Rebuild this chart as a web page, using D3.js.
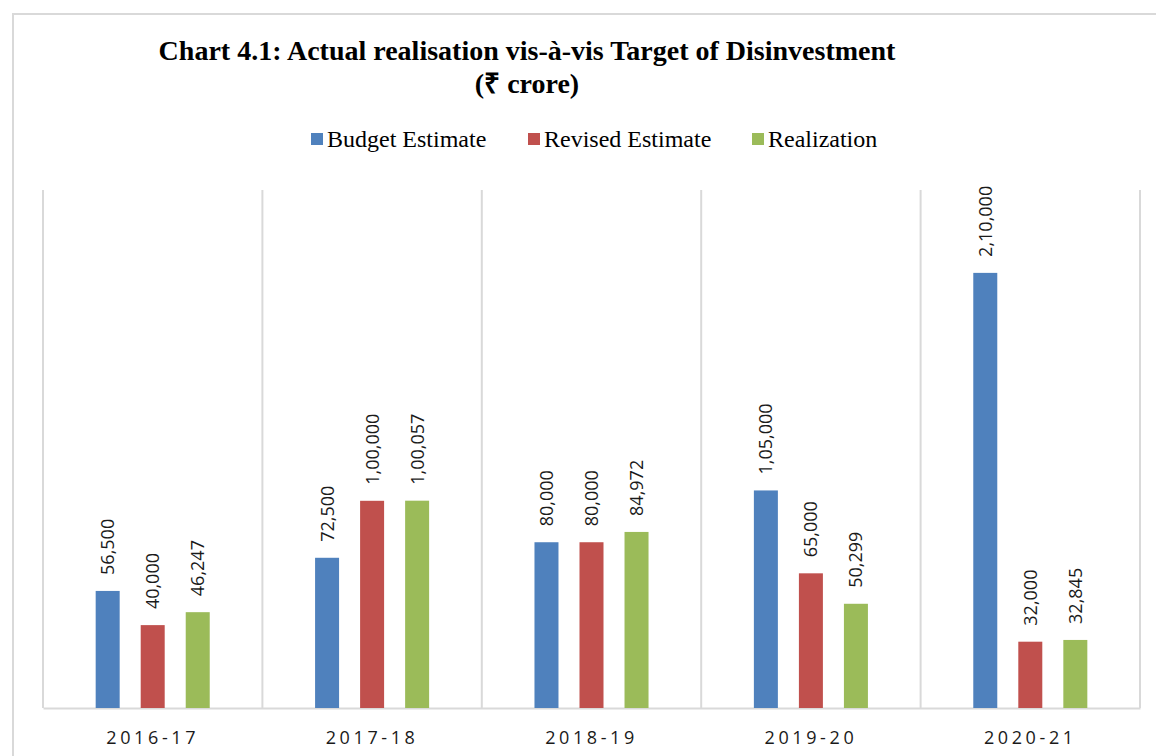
<!DOCTYPE html>
<html>
<head>
<meta charset="utf-8">
<script src="https://cdn.jsdelivr.net/npm/d3@7"></script>
<style>
  html, body { margin: 0; padding: 0; background: #fff; }
  svg { display: block; }
</style>
</head>
<body>
<svg id="chart" width="1156" height="756"></svg>
<script>
// Disinvestment targets and realisation, ₹ crore
const years = ["2016-17", "2017-18", "2018-19", "2019-20", "2020-21"];
const seriesNames = ["Budget Estimate", "Revised Estimate", "Realization"];
const budgetEstimate = [56500, 72500, 80000, 105000, 210000];
const revisedEstimate = [40000, 100000, 80000, 65000, 32000];
const realization = [46247, 100057, 84972, 50299, 32845];
const colors = ["#4f81bd", "#c0504d", "#9bbb59"];
const yMax = 250000;

const seriesValues = [budgetEstimate, revisedEstimate, realization];
const rows = years.map((yr, i) => ({
  year: yr,
  values: seriesNames.map((s, k) => ({ series: s, value: seriesValues[k][i], color: colors[k] }))
}));

// Indian digit grouping: 1,00,057 / 2,10,000
function inr(n) {
  const s = String(Math.round(n));
  if (s.length <= 3) return s;
  const last3 = s.slice(-3);
  let rest = s.slice(0, -3);
  const parts = [];
  while (rest.length > 2) { parts.unshift(rest.slice(-2)); rest = rest.slice(0, -2); }
  if (rest.length) parts.unshift(rest);
  return parts.join(",") + "," + last3;
}

const svg = d3.select("#chart");
const plot = { left: 43, right: 1140, top: 190, bottom: 708 };

// outer chart border
svg.append("rect")
  .attr("x", 13).attr("y", 14)
  .attr("width", 1200).attr("height", 800)
  .attr("fill", "none").attr("stroke", "#d9d9d9").attr("stroke-width", 2);

// title
const title = svg.append("text")
  .attr("text-anchor", "middle")
  .attr("font-family", "'Liberation Serif', 'Times New Roman', serif")
  .attr("font-weight", "bold")
  .attr("font-size", 28)
  .attr("fill", "#000");
title.append("tspan").attr("x", 527).attr("y", 60)
  .text("Chart 4.1: Actual realisation vis-à-vis Target of Disinvestment");
title.append("tspan").attr("x", 527).attr("y", 93).text("(₹ crore)");

const x0 = d3.scaleBand().domain(years).range([plot.left, plot.right]).padding(0);
const x1 = d3.scaleBand().domain(seriesNames)
  .range([0, x0.bandwidth()]).paddingInner(0.467).paddingOuter(1.17);
const y = d3.scaleLinear().domain([0, yMax]).range([plot.bottom, plot.top]);

// vertical category separators
const edges = years.map(d => x0(d)).concat([plot.right]);
svg.append("g").selectAll("line").data(edges).join("line")
  .attr("x1", d => d).attr("x2", d => d)
  .attr("y1", plot.top).attr("y2", plot.bottom)
  .attr("stroke", "#d9d9d9").attr("stroke-width", 2);

// category axis
const xAxis = svg.append("g")
  .attr("transform", `translate(0,${plot.bottom})`)
  .call(d3.axisBottom(x0).tickSize(0).tickPadding(0));
xAxis.select(".domain").attr("stroke", "#d9d9d9").attr("stroke-width", 2);
xAxis.selectAll("text")
  .attr("y", 36).attr("dy", 0)
  .attr("font-family", "'Open Sans', 'Noto Sans', sans-serif")
  .attr("font-size", 18)
  .attr("letter-spacing", "3.6px")
  .attr("fill", "#1a1a1a");

// bars
const groups = svg.append("g").selectAll("g").data(rows).join("g")
  .attr("transform", d => `translate(${x0(d.year)},0)`);

groups.selectAll("rect").data(d => d.values).join("rect")
  .attr("x", d => x1(d.series))
  .attr("y", d => y(d.value))
  .attr("width", x1.bandwidth())
  .attr("height", d => y(0) - y(d.value))
  .attr("fill", d => d.color);

// value labels, rotated
groups.selectAll("text.val").data(d => d.values).join("text")
  .attr("class", "val")
  .attr("transform", d => `translate(${x1(d.series) + x1.bandwidth() / 2},${y(d.value) - 16}) rotate(-90)`)
  .attr("dy", "0.36em")
  .attr("font-family", "'Open Sans', 'Noto Sans', sans-serif")
  .attr("font-size", 18)
  .attr("fill", "#1a1a1a")
  .text(d => inr(d.value));

// legend
const legendItems = [
  { name: seriesNames[0], color: colors[0], x: 311 },
  { name: seriesNames[1], color: colors[1], x: 528 },
  { name: seriesNames[2], color: colors[2], x: 752 }
];
const legend = svg.append("g").selectAll("g").data(legendItems).join("g")
  .attr("transform", d => `translate(${d.x},0)`);
legend.append("rect")
  .attr("x", 0).attr("y", 133).attr("width", 12).attr("height", 12)
  .attr("fill", d => d.color);
legend.append("text")
  .attr("x", 16).attr("y", 147)
  .attr("font-family", "'Liberation Serif', 'Times New Roman', serif")
  .attr("font-size", 24)
  .attr("fill", "#000")
  .text(d => d.name);
</script>
</body>
</html>
